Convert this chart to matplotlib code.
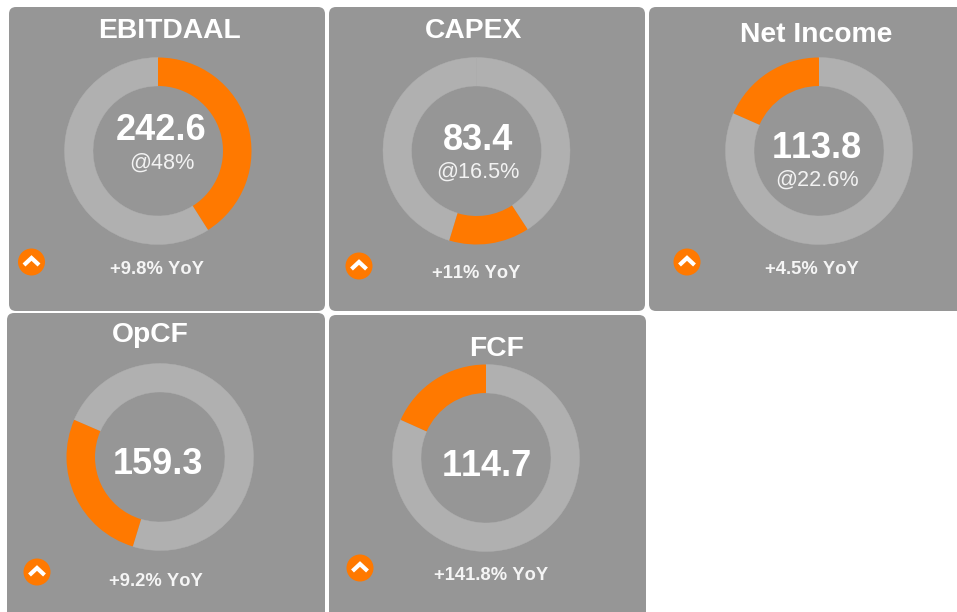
import matplotlib
matplotlib.use("Agg")
import matplotlib.pyplot as plt
from matplotlib.patches import FancyBboxPatch, Circle

plt.rcParams['font.family'] = ['Liberation Sans', 'DejaVu Sans']
plt.rcParams['text.kerning_factor'] = 6

titles = ["EBITDAAL", "CAPEX", "Net Income", "OpCF", "FCF"]
main_values = ["242.6", "83.4", "113.8", "159.3", "114.7"]
sub_values = ["@48%", "@16.5%", "@22.6%", "", ""]
yoy_labels = ["+9.8% YoY", "+11% YoY", "+4.5% YoY", "+9.2% YoY", "+141.8% YoY"]
# Ring segments in percent, clockwise from 12 o'clock
gray_before = [0, 40.8, 81.6, 54.7, 81.7]
orange_share = [41.0, 13.9, 18.4, 26.8, 18.3]
gray_after = [59.0, 45.3, 0, 18.5, 0]

panels = [(9, 7, 316, 304), (329, 7, 316, 304), (649, 7, 320, 304),
          (7, 313, 318, 310), (329, 315, 317, 308)]
centers = [(158, 151), (476.5, 151), (819, 151), (160, 457), (486, 458)]
title_pos = [(170, 31), (474, 31), (816, 35), (150, 335), (497, 349)]
main_dy = [-20, -10, -3, 7, 9]
sub_dy = [12, 21, 29, 0, 0]
main_x = [161.5, 478, 817, 158, 486.5]
sub_x = [162, 478, 817, 0, 0]
yoy_pos = [(156.5, 269), (476, 274), (812, 270), (155.5, 581), (491, 576)]
icons = [(31.5, 262), (359, 266), (687, 262), (37, 572), (360, 568)]

W, H = 957, 612
PANEL = "#969696"
RING = "#B0B0B0"
ORANGE = "#FF7900"

fig = plt.figure(figsize=(W / 100, H / 100), dpi=100, facecolor="white")
ax = fig.add_axes([0, 0, 1, 1])


def Y(y):
    return H - y


for i, title in enumerate(titles):
    x, y, w, h = panels[i]
    ax.add_patch(FancyBboxPatch((x + 5, Y(y + h) + 5), w - 10, h - 10,
                                boxstyle="round,pad=5,rounding_size=7",
                                fc=PANEL, ec="none", zorder=1))
    cx, cy = centers[i]
    wedges, _ = ax.pie([gray_before[i], orange_share[i], gray_after[i]],
                       colors=[RING, ORANGE, RING], startangle=90, counterclock=False,
                       center=(cx, Y(cy)), radius=93.5, frame=True,
                       wedgeprops=dict(width=28.5, linewidth=0, zorder=2))
    for k in (0, 2):
        wedges[k].set_edgecolor(RING)
        wedges[k].set_linewidth(0.3)
    wedges[1].set_zorder(2.5)
    ax.text(title_pos[i][0], Y(title_pos[i][1]), title, color="white",
            fontsize=20.3, fontweight="bold", ha="center", va="center", zorder=3)
    ax.text(main_x[i], Y(cy + main_dy[i]), main_values[i], color="white",
            fontsize=26, fontweight="bold", ha="center", va="center", zorder=3)
    if sub_values[i]:
        ax.text(sub_x[i], Y(cy + sub_dy[i]), sub_values[i], color="#F2F2F2",
                fontsize=15.6, ha="center", va="center", zorder=3)
    ax.text(yoy_pos[i][0], Y(yoy_pos[i][1]), yoy_labels[i], color="#F5F5F5",
            fontsize=13.2, fontweight="bold", ha="center", va="center", zorder=3)
    ix, iy = icons[i]
    ax.add_patch(Circle((ix, Y(iy)), 13.5, fc=ORANGE, ec="none", zorder=3))
    ax.plot([ix - 7.5, ix, ix + 7.5], [Y(iy + 3), Y(iy - 4), Y(iy + 3)],
            color="white", lw=3, solid_joinstyle="miter", solid_capstyle="butt", zorder=4)

ax.set_xlim(0, W)
ax.set_ylim(0, H)
ax.set_aspect("auto")
ax.axis("off")
fig.savefig("out.png", dpi=100, facecolor="white")
